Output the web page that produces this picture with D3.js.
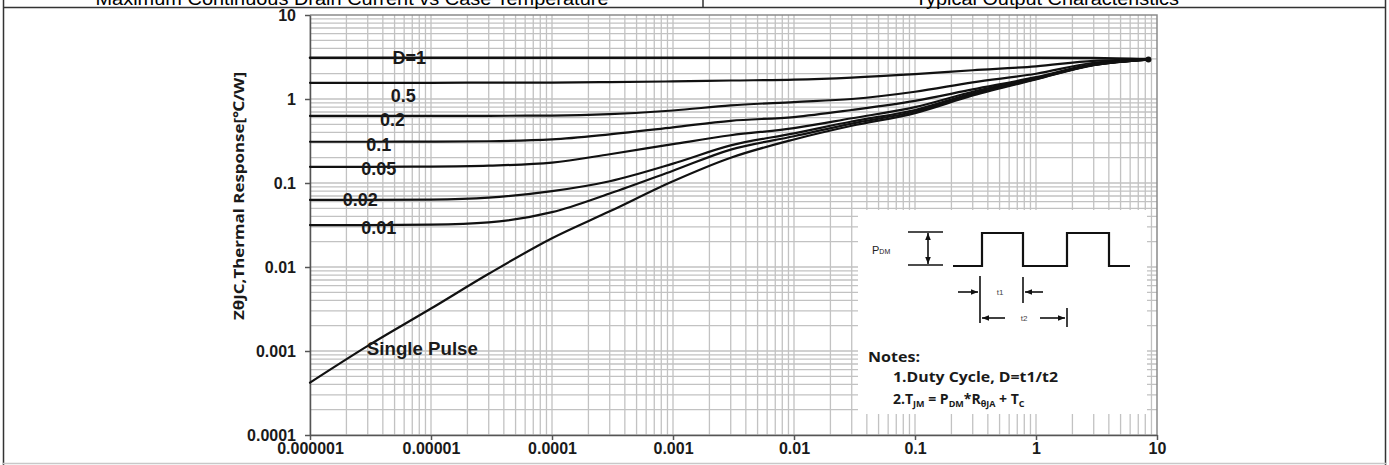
<!DOCTYPE html>
<html lang="en">
<head>
  <meta charset="UTF-8">
  <title>Transient Thermal Response</title>
  <style>
    html, body { margin: 0; padding: 0; background: #fff; }
    svg { display: block; }
    .tick text { font-family: "Liberation Sans", Arial, sans-serif; font-weight: bold; font-size: 16px; fill: #1a1a1a; }
    .lbl { font-family: "Liberation Sans", Arial, sans-serif; font-weight: bold; font-size: 18px; fill: #1a1a1a; }
    .note { font-family: "Open Sans", "Noto Sans", sans-serif; font-weight: bold; fill: #1a1a1a; }
  </style>
</head>
<body>
  <svg width="1389" height="465"></svg>

  <script src="https://d3js.org/d3.v7.min.js"></script>
  <script>
    // pulse width [s]
    const times = [1e-6, 3e-6, 1e-5, 3e-5, 1e-4, 3e-4, 1e-3, 3e-3, 1e-2, 3e-2, 0.1, 0.3, 1, 3, 8.5];

    // Zth values per duty cycle [°C/W]
    const dutyOne    = [3.1, 3.1, 3.1, 3.1, 3.1, 3.1, 3.1, 3.1, 3.1, 3.1, 3.1, 3.1, 3.1, 3.08, 2.98];
    const dutyHalf   = [1.56, 1.56, 1.56, 1.565, 1.57, 1.59, 1.62, 1.66, 1.70, 1.80, 1.98, 2.2, 2.45, 2.85, 2.95];
    const dutyPt2    = [0.628, 0.628, 0.629, 0.631, 0.635, 0.66, 0.73, 0.84, 0.92, 1.0, 1.22, 1.58, 2.0, 2.7, 2.95];
    const dutyPt1    = [0.31, 0.31, 0.311, 0.314, 0.33, 0.38, 0.46, 0.55, 0.61, 0.74, 0.95, 1.3, 1.82, 2.6, 2.95];
    const dutyPt05   = [0.156, 0.156, 0.157, 0.161, 0.175, 0.22, 0.29, 0.37, 0.45, 0.59, 0.8, 1.22, 1.78, 2.57, 2.95];
    const dutyPt02   = [0.0628, 0.0629, 0.0635, 0.067, 0.08, 0.105, 0.17, 0.28, 0.39, 0.54, 0.74, 1.17, 1.75, 2.55, 2.95];
    const dutyPt01   = [0.0316, 0.0316, 0.032, 0.034, 0.045, 0.075, 0.14, 0.25, 0.36, 0.51, 0.71, 1.14, 1.73, 2.54, 2.95];
    const singlePulse = [4.2e-4, 1.15e-3, 3.2e-3, 8.3e-3, 0.022, 0.046, 0.105, 0.2, 0.33, 0.48, 0.68, 1.1, 1.71, 2.53, 2.95];

    const seriesNames = ["D=1", "0.5", "0.2", "0.1", "0.05", "0.02", "0.01", "Single Pulse"];
    const seriesValues = [dutyOne, dutyHalf, dutyPt2, dutyPt1, dutyPt05, dutyPt02, dutyPt01, singlePulse];

    const xTickValues = [1e-6, 1e-5, 1e-4, 1e-3, 1e-2, 1e-1, 1, 10];
    const xTickLabels = ["0.000001", "0.00001", "0.0001", "0.001", "0.01", "0.1", "1", "10"];
    const yTickValues = [1e-4, 1e-3, 1e-2, 1e-1, 1, 10];
    const yTickLabels = ["0.0001", "0.001", "0.01", "0.1", "1", "10"];

    // where each curve label sits (time along the curve, pixel nudge)
    const labelPlace = [
      { t: 6.6e-6, dy: 0, anchor: "middle" },
      { t: 5.9e-6, dy: 13, anchor: "middle" },
      { t: 4.8e-6, dy: 4, anchor: "middle" },
      { t: 3.7e-6, dy: 3, anchor: "middle" },
      { t: 3.7e-6, dy: 2, anchor: "middle" },
      { t: 2.6e-6, dy: 0, anchor: "middle" },
      { t: 3.7e-6, dy: 3, anchor: "middle" },
      { t: 2.95e-6, dy: 2, anchor: "start" }
    ];

    const svg = d3.select("svg");
    const W = +svg.attr("width"), H = +svg.attr("height");

    // page frame with the clipped headings of the neighbouring charts
    const frame = svg.append("g").attr("stroke", "#333").attr("stroke-width", 1.5).attr("fill", "none");
    frame.append("line").attr("x1", 3).attr("x2", W - 3).attr("y1", 7.5).attr("y2", 7.5);
    frame.append("line").attr("x1", 3.5).attr("x2", 3.5).attr("y1", 0).attr("y2", H);
    frame.append("line").attr("x1", W - 3.5).attr("x2", W - 3.5).attr("y1", 0).attr("y2", H);
    frame.append("line").attr("x1", 703).attr("x2", 703).attr("y1", 0).attr("y2", 7.5);
    svg.append("line").attr("x1", 3).attr("x2", W - 3).attr("y1", 463.5).attr("y2", 463.5)
      .attr("stroke", "#c8c8c8").attr("stroke-width", 1.5);

    svg.append("text").attr("x", 352).attr("y", 4.5).attr("text-anchor", "middle")
      .attr("font-family", "Liberation Sans, Arial, sans-serif").attr("font-size", 19)
      .attr("textLength", 513).attr("lengthAdjust", "spacingAndGlyphs")
      .text("Maximum Continuous Drain Current vs Case Temperature");
    svg.append("text").attr("x", 1047).attr("y", 4.5).attr("text-anchor", "middle")
      .attr("font-family", "Liberation Sans, Arial, sans-serif").attr("font-size", 19)
      .attr("textLength", 264).attr("lengthAdjust", "spacingAndGlyphs")
      .text("Typical Output Characteristics");

    // plot area
    const plotL = 310, plotR = 1157, plotT = 15, plotB = 435;
    const x = d3.scaleLog().domain([1e-6, 10]).range([plotL, plotR]);
    const y = d3.scaleLog().domain([1e-4, 10]).range([plotB, plotT]);

    // log grid (1..9 per decade)
    const grid = svg.append("g").attr("stroke", "#c2c2c2").attr("stroke-width", 1.3);
    for (let e = -6; e < 1; e++) {
      for (let k = 1; k <= 9; k++) {
        const v = k * Math.pow(10, e);
        grid.append("line").attr("x1", x(v)).attr("x2", x(v)).attr("y1", plotT).attr("y2", plotB);
      }
    }
    for (let e = -4; e < 1; e++) {
      for (let k = 1; k <= 9; k++) {
        const v = k * Math.pow(10, e);
        grid.append("line").attr("x1", plotL).attr("x2", plotR).attr("y1", y(v)).attr("y2", y(v));
      }
    }
    // plot border top / right
    svg.append("path").attr("d", `M${plotL},${plotT}H${plotR}V${plotB}`)
      .attr("fill", "none").attr("stroke", "#8a8a8a").attr("stroke-width", 1.5);

    // axes
    const xAxis = svg.append("g").attr("transform", `translate(0,${plotB})`)
      .call(d3.axisBottom(x).tickValues(xTickValues)
        .tickFormat((d, i) => xTickLabels[i]).tickSizeInner(5).tickSizeOuter(0).tickPadding(3));
    const yAxis = svg.append("g").attr("transform", `translate(${plotL},0)`)
      .call(d3.axisLeft(y).tickValues(yTickValues)
        .tickFormat((d, i) => yTickLabels[i]).tickSizeInner(5).tickSizeOuter(0).tickPadding(9));
    [xAxis, yAxis].forEach(a => {
      a.select(".domain").attr("stroke", "#555").attr("stroke-width", 1.5);
      a.selectAll(".tick line").attr("stroke", "#555").attr("stroke-width", 1.5);
    });

    // y axis title
    svg.append("text")
      .attr("transform", "translate(244,196) rotate(-90)")
      .attr("text-anchor", "middle")
      .attr("font-family", "Open Sans, Noto Sans, sans-serif")
      .attr("font-weight", "bold").attr("font-size", 15).attr("fill", "#1a1a1a")
      .attr("textLength", 248).attr("lengthAdjust", "spacingAndGlyphs")
      .text("ZθJC,Thermal Response[℃/W]");

    // curves
    const line = d3.line()
      .x(d => x(d[0]))
      .y(d => y(d[1]))
      .curve(d3.curveMonotoneX);

    svg.append("g").selectAll("path")
      .data(seriesValues)
      .join("path")
      .attr("d", vals => line(times.map((t, i) => [t, vals[i]])))
      .attr("fill", "none")
      .attr("stroke", "#111")
      .attr("stroke-width", (d, i) => i === 0 ? 2.6 : 2.2)
      .attr("stroke-linecap", "round");

    // end blob where all curves meet
    svg.append("circle")
      .attr("cx", x(times[times.length - 1])).attr("cy", y(dutyHalf[dutyHalf.length - 1]))
      .attr("r", 3).attr("fill", "#111");

    // value on a curve at time t (log-log interpolation)
    function valueAt(vals, t) {
      const lt = Math.log10(t);
      for (let i = 0; i < times.length - 1; i++) {
        const a = Math.log10(times[i]), b = Math.log10(times[i + 1]);
        if (lt >= a && lt <= b) {
          const f = (lt - a) / (b - a);
          return Math.pow(10, Math.log10(vals[i]) + f * (Math.log10(vals[i + 1]) - Math.log10(vals[i])));
        }
      }
      return vals[0];
    }

    seriesNames.forEach((name, i) => {
      const p = labelPlace[i];
      const t = svg.append("text").attr("class", "lbl")
        .attr("x", x(p.t))
        .attr("y", y(valueAt(seriesValues[i], p.t)) + p.dy)
        .attr("dy", "0.36em")
        .attr("text-anchor", p.anchor)
        .text(name);
      if (name === "Single Pulse") t.attr("textLength", 111).attr("lengthAdjust", "spacingAndGlyphs");
    });

    // ---- inset ----
    const inset = svg.append("g").attr("transform", "translate(858,210)");
    inset.append("rect").attr("width", 289).attr("height", 204).attr("fill", "#fff");

    const defs = svg.append("defs");
    defs.append("marker").attr("id", "ah").attr("viewBox", "0 0 10 10")
      .attr("refX", 10).attr("refY", 5).attr("markerWidth", 7).attr("markerHeight", 7)
      .attr("markerUnits", "userSpaceOnUse").attr("orient", "auto-start-reverse")
      .append("path").attr("d", "M0,1L10,5L0,9Z").attr("fill", "#111");

    const ink = { stroke: "#111", "stroke-width": 1.6, fill: "none" };
    function seg(x1, y1, x2, y2, opts = {}) {
      const l = inset.append("line").attr("x1", x1).attr("y1", y1).attr("x2", x2).attr("y2", y2);
      Object.entries(Object.assign({}, ink, opts)).forEach(([k, v]) => l.attr(k, v));
      return l;
    }

    const pdm = inset.append("text").attr("x", 14).attr("y", 44)
      .attr("font-family", "Liberation Sans, Arial, sans-serif").attr("font-size", 11).attr("fill", "#222");
    pdm.append("tspan").text("P");
    pdm.append("tspan").attr("font-size", 7).text("DM");

    seg(50, 22, 85, 22);
    seg(50, 55, 85, 55);
    seg(70, 23, 70, 54).attr("marker-start", "url(#ah)").attr("marker-end", "url(#ah)");

    inset.append("path")
      .attr("d", "M95,56H124V23H165V56H209V23H251V56H272")
      .attr("fill", "none").attr("stroke", "#111").attr("stroke-width", 2.2);

    seg(122, 66, 122, 113);
    seg(165, 67, 165, 93);
    seg(100, 82, 120, 82).attr("marker-end", "url(#ah)");
    seg(185, 82, 167, 82).attr("marker-end", "url(#ah)");
    seg(147, 108, 124, 108).attr("marker-end", "url(#ah)");
    seg(182, 108, 207, 108).attr("marker-end", "url(#ah)");
    seg(209, 98, 209, 117);

    const small = { "font-family": "Liberation Sans, Arial, sans-serif", "font-size": 8, fill: "#444", "text-anchor": "middle" };
    const t1 = inset.append("text").attr("x", 142).attr("y", 85).text("t1");
    const t2 = inset.append("text").attr("x", 166).attr("y", 111).text("t2");
    [t1, t2].forEach(t => Object.entries(small).forEach(([k, v]) => t.attr(k, v)));

    inset.append("text").attr("class", "note").attr("x", 10).attr("y", 152)
      .attr("font-size", 15).attr("textLength", 52).attr("lengthAdjust", "spacingAndGlyphs")
      .text("Notes:");
    inset.append("text").attr("class", "note").attr("x", 35).attr("y", 172)
      .attr("font-size", 14).attr("font-weight", 600)
      .attr("textLength", 165).attr("lengthAdjust", "spacingAndGlyphs")
      .text("1.Duty  Cycle, D=t1/t2");

    const n2 = inset.append("text").attr("class", "note").attr("x", 35).attr("y", 194)
      .attr("font-size", 14).attr("font-weight", 600);
    n2.append("tspan").text("2.T");
    n2.append("tspan").attr("font-size", 9).attr("dy", 3).text("JM");
    n2.append("tspan").attr("dy", -3).text(" = P");
    n2.append("tspan").attr("font-size", 9).attr("dy", 3).text("DM");
    n2.append("tspan").attr("dy", -3).text("*R");
    n2.append("tspan").attr("font-size", 9).attr("dy", 3).text("θJA");
    n2.append("tspan").attr("dy", -3).text(" + T");
    n2.append("tspan").attr("font-size", 9).attr("dy", 3).text("C");
  </script>
</body>
</html>
